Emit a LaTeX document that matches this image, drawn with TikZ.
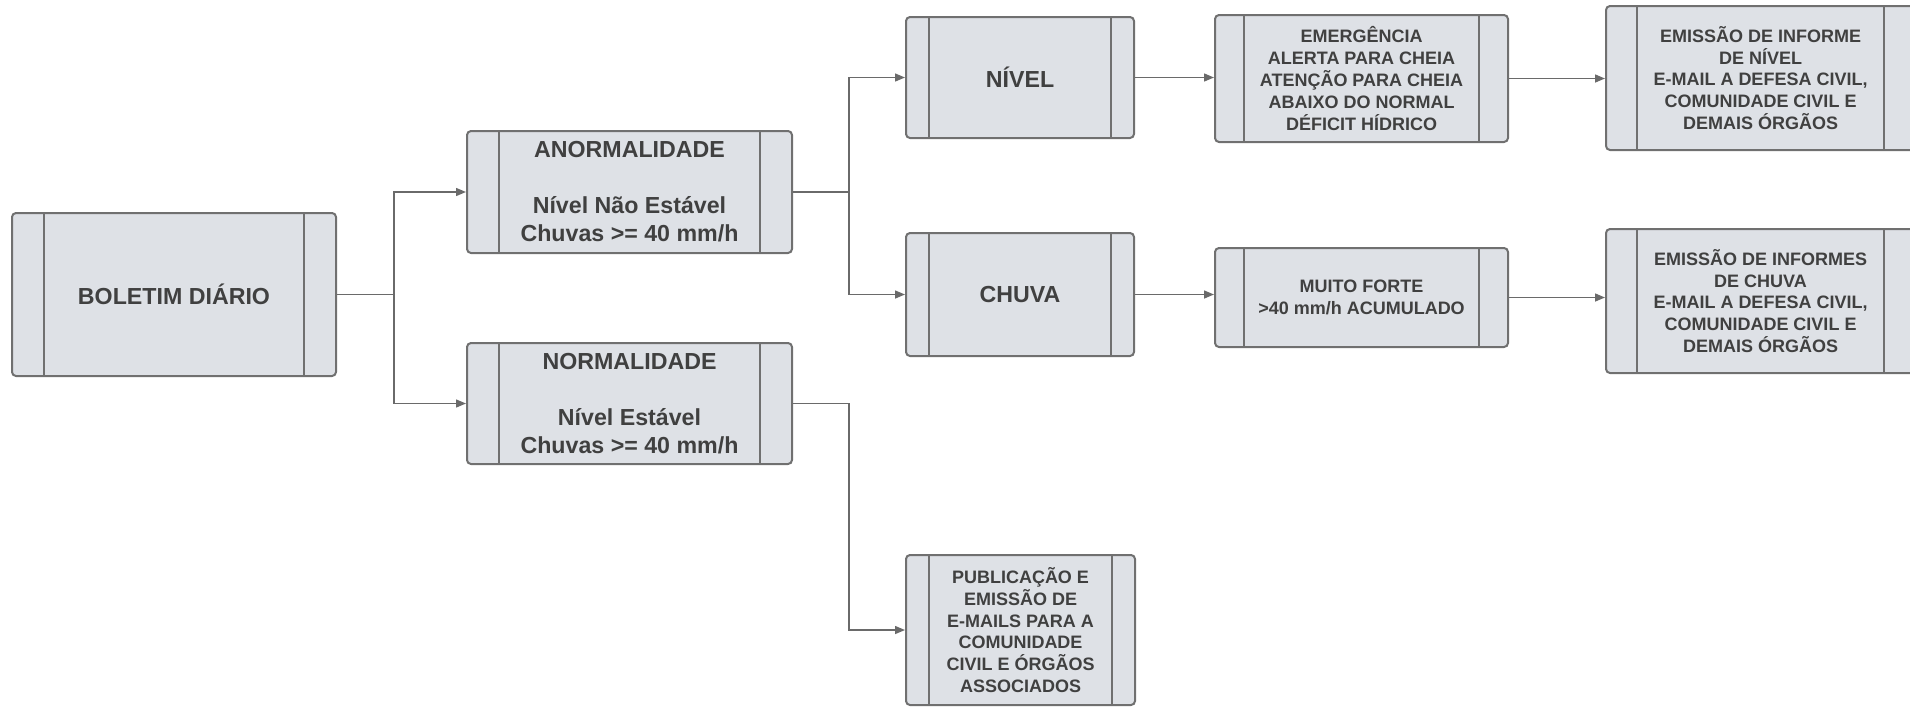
\documentclass[tikz,border=0pt]{standalone}
\usepackage{fontspec}
\setmainfont{Liberation Sans}
\usetikzlibrary{arrows.meta}
\definecolor{boxfill}{HTML}{DEE1E6}
\definecolor{boxborder}{HTML}{707070}
\definecolor{txt}{HTML}{404040}
\definecolor{linec}{HTML}{6A6A6A}
\tikzset{
  barw/.store in=\mybarw, barw=16pt,
  proc/.style={draw=boxborder, fill=boxfill, line width=1pt, rounded corners=2pt,
    text=txt, align=center, inner sep=0pt,
    font=\bfseries\fontsize{11.6}{14}\selectfont,
    path picture={\draw[boxborder,line width=1pt]
      ([xshift=\mybarw]path picture bounding box.north west) -- ([xshift=\mybarw]path picture bounding box.south west)
      ([xshift=-\mybarw]path picture bounding box.north east) -- ([xshift=-\mybarw]path picture bounding box.south east);}},
  small/.style={font=\bfseries\fontsize{9}{10.9}\selectfont},
  conn/.style={draw=linec, line width=0.7pt, -{Triangle[length=5pt,width=4pt]}},
  plain/.style={draw=linec, line width=0.7pt},
}
\begin{document}
\begin{tikzpicture}[x=0.5pt,y=-0.5pt]
\useasboundingbox (0,0) rectangle (1910,707);
\clip (0,0) rectangle (1910,707);
\node[proc, barw=16pt, minimum width=162pt, minimum height=81.5pt] (bol) at (174,294.5) {BOLETIM DIÁRIO};
\node[proc, barw=16pt, minimum width=162.5pt, minimum height=61pt] (anorm) at (629.5,192) {ANORMALIDADE\\[14pt]Nível Não Estável\\Chuvas >= 40 mm/h};
\node[proc, barw=16pt, minimum width=162.5pt, minimum height=60.5pt] (norm) at (629.5,403.5) {NORMALIDADE\\[14pt]Nível Estável\\Chuvas >= 40 mm/h};
\node[proc, barw=11.5pt, minimum width=114pt, minimum height=60.5pt] (nivel) at (1020,77.5) {NÍVEL};
\node[proc, barw=11.5pt, minimum width=114pt, minimum height=61.5pt] (chuva) at (1020,294.5) {CHUVA};
\node[proc, small, barw=14.5pt, minimum width=146.5pt, minimum height=63.5pt] (emerg) at (1361.5,78.5) {EMERGÊNCIA\\ALERTA PARA CHEIA\\ATENÇÃO PARA CHEIA\\ABAIXO DO NORMAL\\DÉFICIT HÍDRICO};
\node[proc, small, barw=14.5pt, minimum width=146.5pt, minimum height=49.5pt] (muito) at (1361.5,297.5) {MUITO FORTE\\>40 mm/h ACUMULADO};
\node[proc, small, barw=15.5pt, minimum width=154.5pt, minimum height=72pt] (emisN) at (1760.5,78) {EMISSÃO DE INFORME\\DE NÍVEL\\E-MAIL A DEFESA CIVIL,\\COMUNIDADE CIVIL E\\DEMAIS ÓRGÃOS};
\node[proc, small, barw=15.5pt, minimum width=154.5pt, minimum height=72pt] (emisC) at (1760.5,301) {EMISSÃO DE INFORMES\\DE CHUVA\\E-MAIL A DEFESA CIVIL,\\COMUNIDADE CIVIL E\\DEMAIS ÓRGÃOS};
\node[proc, small, barw=11.5pt, minimum width=114.5pt, minimum height=75pt] (publ) at (1020.5,630) {PUBLICAÇÃO E\\EMISSÃO DE\\E-MAILS PARA A\\COMUNIDADE\\CIVIL E ÓRGÃOS\\ASSOCIADOS};
\coordinate (f1) at (394,0);
\coordinate (f2) at (849,0);
\draw[plain] (bol.east) -- (bol.east -| f1);
\draw[conn] (bol.east -| f1) |- (anorm.west);
\draw[conn] (bol.east -| f1) |- (norm.west);
\draw[plain] (anorm.east) -- (anorm.east -| f2);
\draw[conn] (anorm.east -| f2) |- (nivel.west);
\draw[conn] (anorm.east -| f2) |- (chuva.west);
\draw[conn] (norm.east) -- (norm.east -| f2) |- (publ.west);
\draw[conn] (nivel.east) -- (nivel.east -| emerg.west);
\draw[conn] (chuva.east) -- (chuva.east -| muito.west);
\draw[conn] (emerg.east) -- (emerg.east -| emisN.west);
\draw[conn] (muito.east) -- (muito.east -| emisC.west);
\end{tikzpicture}
\end{document}
